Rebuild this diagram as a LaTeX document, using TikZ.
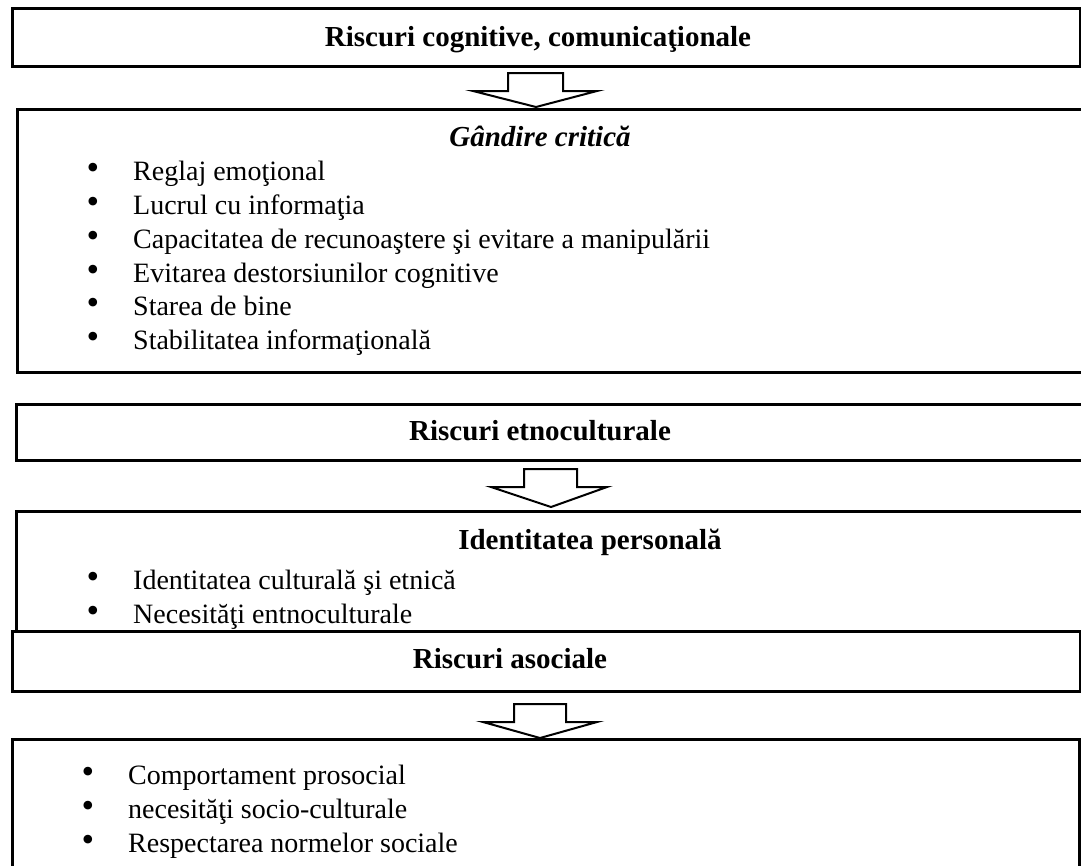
\documentclass[tikz,border=0pt]{standalone}
\usepackage{fontspec}
\setmainfont{Liberation Serif}
\begin{document}
\begin{tikzpicture}[x=1pt,y=-1pt,
  box/.style={draw, line width=2.6pt, fill=white, inner sep=0, anchor=north west},
  barrow/.style={draw, line width=2pt, fill=white, line join=miter},
  txt/.style={font=\fontsize{28}{33}\selectfont, anchor=base west, inner sep=0},
  ttl/.style={font=\fontsize{29}{33}\selectfont\bfseries, anchor=base, inner sep=0},
  bul/.style={font=\fontsize{36}{36}\selectfont, anchor=center, inner sep=0}]
\useasboundingbox (0,0) rectangle (1081,865);
\clip (0,0) rectangle (1081,865);
% boxes
\node[box, minimum width=1068pt, minimum height=58pt] (b1) at (11,7) {};
\node[box, minimum width=1100pt, minimum height=263pt] (b2) at (16,108) {};
\node[box, minimum width=1100pt, minimum height=56pt] (b3) at (15,403) {};
\node[box, minimum width=1100pt, minimum height=130pt] (b4) at (15,510) {};
\node[box, minimum width=1068pt, minimum height=60pt] (b5) at (11,630) {};
\node[box, minimum width=1067pt, minimum height=200pt] (b6) at (11,738) {};
\draw[line width=2pt] (1079,672) -- (1081,672);
% block arrows
\draw[barrow] (508,73) -- (563,73) -- (563,91) -- (597,91) -- (536,107) -- (473,91) -- (508,91) -- cycle;
\draw[barrow] (524,469) -- (577,469) -- (577,487) -- (607,487) -- (551,507) -- (491,487) -- (524,487) -- cycle;
\draw[barrow] (514,704) -- (566,704) -- (566,722) -- (597,722) -- (540,738) -- (483,722) -- (514,722) -- cycle;
% texts
\node[ttl] (t1) at (538,46) {Riscuri cognitive, comunicaţionale};
\node[ttl, font=\fontsize{29}{33}\selectfont\bfseries\itshape] (t2) at (540,146) {Gândire critică};
\foreach \y/\s [count=\i] in {180/Reglaj emoţional, 214/Lucrul cu informaţia, 248/Capacitatea de recunoaştere şi evitare a manipulării, 282/Evitarea destorsiunilor cognitive, 315/Starea de bine, 349/Stabilitatea informaţională}{
  \node[bul] (ba\i) at (93,\y-9) {•};
  \node[txt] (ia\i) at (133,\y) {\s};
}
\node[ttl] (t3) at (540,440) {Riscuri etnoculturale};
\node[ttl] (t4) at (590,549) {Identitatea personală};
\foreach \y/\s [count=\i] in {589/Identitatea culturală şi etnică, 623/Necesităţi entnoculturale}{
  \node[bul] (bb\i) at (93,\y-9) {•};
  \node[txt] (ib\i) at (133,\y) {\s};
}
\node[ttl] (t5) at (510,668) {Riscuri asociale};
\foreach \y/\s [count=\i] in {784/Comportament prosocial, 818/necesităţi socio-culturale, 852/Respectarea normelor sociale}{
  \node[bul] (bc\i) at (88,\y-9) {•};
  \node[txt] (ic\i) at (128,\y) {\s};
}
\end{tikzpicture}
\end{document}
